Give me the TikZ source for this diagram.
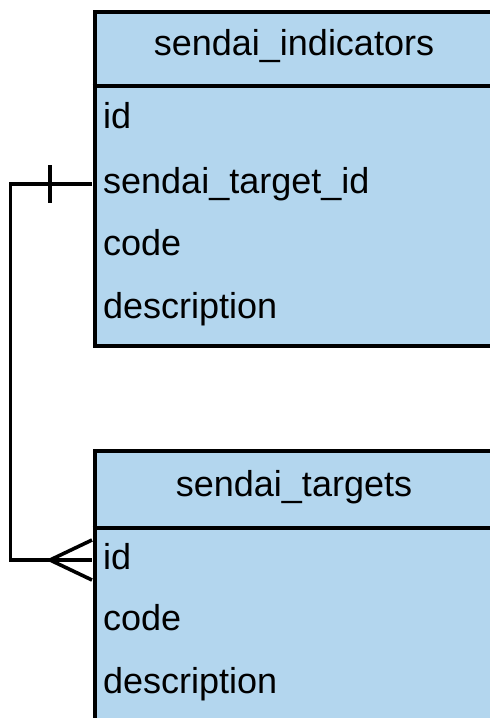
\documentclass[tikz,border=0pt]{standalone}
\usepackage{fontspec}
\setmainfont{Liberation Sans}
\definecolor{tablefill}{RGB}{179,214,238}
\begin{document}
\begin{tikzpicture}[x=1pt,y=-1pt,
  tablebox/.style={draw=black, line width=4pt, fill=tablefill, anchor=north west,
    inner sep=0pt, minimum width=404pt},
  headtext/.style={anchor=base, inner sep=0pt, font=\fontsize{36}{43}\selectfont},
  rowtext/.style={anchor=west, inner xsep=11pt, inner ysep=0pt, text height=26pt,
    text depth=7pt, minimum height=63pt, font=\fontsize{36}{43}\selectfont},
  sepline/.style={draw=black, line width=3.4pt},
  link/.style={draw=black, line width=3.6pt}]
\useasboundingbox (0,0) rectangle (490,718);
\clip (0,0) rectangle (490,718);

% table sendai_indicators
\node[tablebox, minimum height=334pt] (ind) at (92.5,9.5) {};
\draw[sepline] (ind.west |- 0,86) -- ++(404,0);
\node[headtext] (ind-h) at (294,55) {sendai\_indicators};
\node[rowtext] (ind-id)   at (92,119)   {id};
\node[rowtext] (ind-tid)  at (92,184) {sendai\_target\_id};
\node[rowtext] (ind-code) at (92,246)   {code};
\node[rowtext] (ind-desc) at (92,309)   {description};

% table sendai_targets
\node[tablebox, minimum height=300pt] (tgt) at (92.5,449) {};
\draw[sepline] (tgt.west |- 0,528) -- ++(404,0);
\node[headtext] (tgt-h) at (294,496) {sendai\_targets};
\node[rowtext] (tgt-id)   at (92,560) {id};
\node[rowtext] (tgt-code) at (92,621) {code};
\node[rowtext] (tgt-desc) at (92,684) {description};

% relationship: one indicator target -> many targets
\draw[link] (ind-tid.west) -- ++(-81.5,0) |- (tgt-id.west);
\draw[link] (ind-tid.west) ++(-42,-19) -- ++(0,38);
\draw[link] (tgt-id.west) ++(0,-20) -- ++(-42,20) -- ++(42,20);
\end{tikzpicture}
\end{document}
